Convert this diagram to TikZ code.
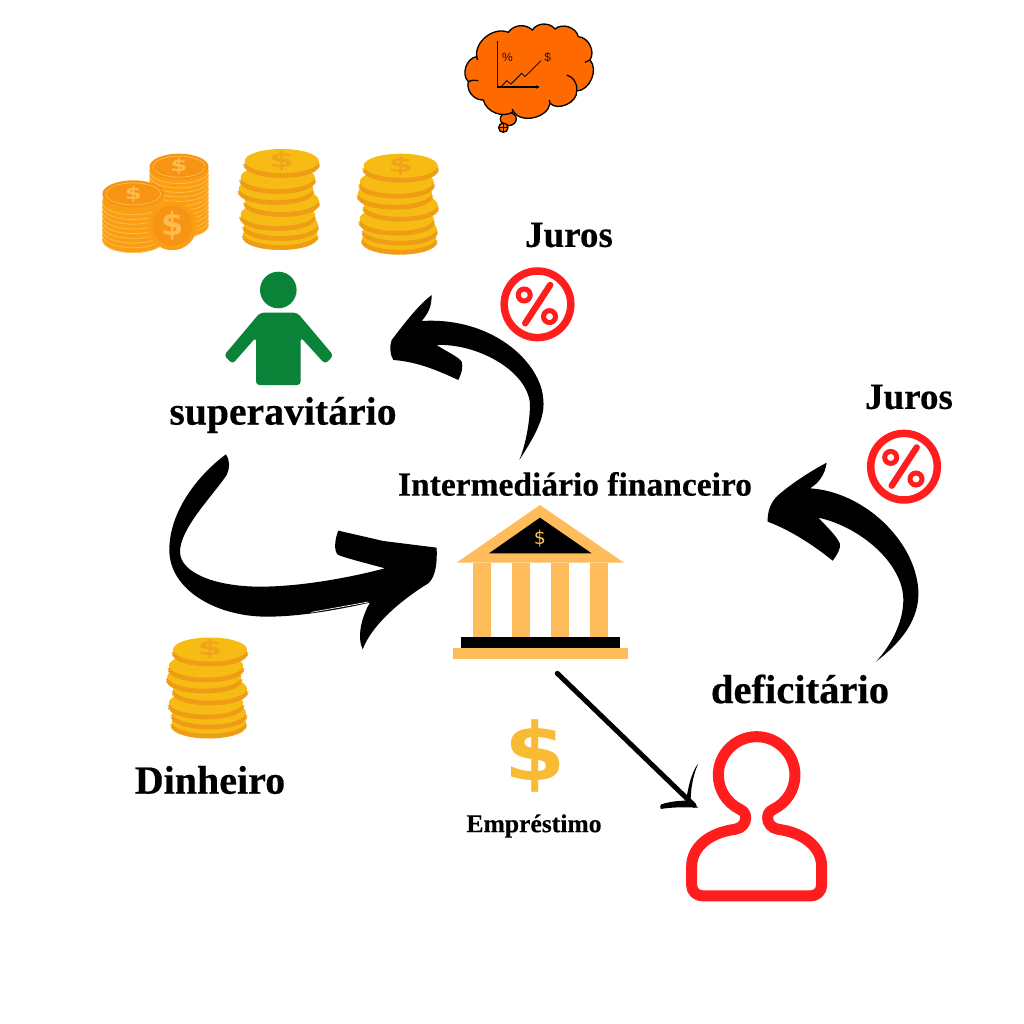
\documentclass[tikz,border=0pt]{standalone}
\usetikzlibrary{arrows.meta}
\usepackage{fontspec}
\setmainfont{Liberation Serif}[BoldFeatures={FakeBold=0.4}]
\newfontfamily\sansb{Liberation Sans}[BoldFont={Liberation Sans Bold}]
\newfontfamily\dejab{DejaVu Sans}[BoldFont={DejaVu Sans Bold}]
\definecolor{coinTop}{HTML}{F7BC14}
\definecolor{coinSide}{HTML}{F4A61C}
\definecolor{coinRib}{HTML}{EC9812}
\definecolor{coinMark}{HTML}{F0A41A}
\definecolor{orangeCoin}{HTML}{FA9F14}
\definecolor{orangeLine}{HTML}{FDBC4C}
\definecolor{orangeDark}{HTML}{F89414}
\definecolor{bankGold}{HTML}{FFBC5B}
\definecolor{dollarGold}{HTML}{F8BB33}
\definecolor{alertRed}{HTML}{FF1D1D}
\definecolor{personGreen}{HTML}{0A8238}
\definecolor{cloudOrange}{HTML}{FF6A00}
\tikzset{
  lab/.style={inner sep=0pt,text=black,font=\bfseries\fontsize{#1}{#1}\selectfont},
  coinstack/.pic={
    \foreach \dx/\dy in {-1.3/72,-1/63,-4/53,0/39,-5.7/27,-4/16,0/0}{
      \fill[coinSide] (\dx-37,\dy) rectangle (\dx+37,\dy+5);
      \fill[coinSide] (\dx,\dy+5) ellipse [x radius=37,y radius=12];
      \draw[coinRib,line width=4.4,dash pattern=on .7pt off .7pt]
        (\dx-36.5,\dy+2.5) .. controls (\dx-36.5,\dy+18.5) and (\dx+36.5,\dy+18.5) .. (\dx+36.5,\dy+2.5);
      \fill[coinTop] (\dx,\dy) ellipse [x radius=37,y radius=12];
    }
    \node[inner sep=0pt,text=coinMark,xscale=1.7,font=\dejab\bfseries\fontsize{21}{21}\selectfont] at (0,0) {\$};
  },
  orangestack/.pic={
    \foreach \dy in {#1}{
      \fill[orangeCoin] (0,\dy+2) ellipse [x radius=29.5,y radius=13];
      \draw[orangeLine,line width=.8] (-29.5,\dy+2) .. controls (-29.5,\dy+19) and (29.5,\dy+19) .. (29.5,\dy+2);
    }
    \fill[orangeDark] (0,0) ellipse [x radius=29.5,y radius=13];
    \draw[orangeLine,line width=.7] (0,0) ellipse [x radius=26,y radius=10.5];
    \node[inner sep=0pt,text=orangeLine,xscale=1.4,font=\dejab\bfseries\fontsize{17}{17}\selectfont] at (0,0) {\$};
  },
  percentbadge/.pic={
    \draw[alertRed,line width=7.5] (0,0) circle [radius=33.3];
    \draw[alertRed,line width=6.4,line cap=round] (12.7,-19.3) -- (-12.3,19);
    \draw[alertRed,line width=5] (-13.3,-9.3) circle [radius=6];
    \draw[alertRed,line width=5] (12,12.3) circle [radius=6];
  },
  zoomtwo/.style={shift={(150,440)},x=.3333pt,y=-.3333pt},
  zoomthree/.style={shift={(440,660)},x=.3333pt,y=-.3333pt},
  zoomfour/.style={shift={(380,260)},x=.3333pt,y=-.3333pt},
  zoomfive/.style={shift={(750,420)},x=.3333pt,y=-.3333pt},
  zoomcloud/.style={shift={(455,15)},x=.3333pt,y=-.3333pt},
  cloudline/.style={draw=black,line width=1.3},
}
\begin{document}
\begin{tikzpicture}[x=1pt,y=-1pt]
\fill[white] (0,0) rectangle (1024,1024);
\useasboundingbox (0,0) rectangle (1024,1024);

% thought cloud
\begin{scope}[zoomcloud]
\filldraw[fill=cloudOrange,cloudline] (160,312) ellipse [x radius=24,y radius=20];
\filldraw[fill=cloudOrange,cloudline] (145,338) circle [radius=14];
\draw[black,line width=.7] (133,338) -- (157,338) (145,325) -- (145,351);
\filldraw[fill=cloudOrange,cloudline]
  (65,125) to[bend left=60] (160,52) to[bend left=50] (232,45)
  to[bend left=55] (300,42) to[bend left=60] (370,65) to[bend left=60] (405,135)
  to[bend left=65] (365,228) to[bend left=70] (285,265) to[bend left=70] (175,290)
  to[bend left=55] (85,255) to[bend left=55] (40,200) to[bend left=65] cycle;
\draw[cloudline] (335,180) .. controls (355,185) and (368,205) .. (365,228);
\draw[cloudline] (40,200) .. controls (50,195) and (60,195) .. (70,197);
\draw[cloudline] (405,135) -- (390,142) (285,265) -- (283,255) (175,290) -- (172,282) (65,125) -- (68,135);
\draw[black,line width=1.1,-{Stealth[length=3.5pt,width=3.5pt]}] (128,78) -- (128,216) -- (254,216);
\draw[black,line width=.8] (140,214) -- (155,197) -- (168,207) -- (200,175) -- (210,185) -- (258,137);
\node[inner sep=0pt,text=black!85!orange,font=\sansb\fontsize{12}{12}\selectfont] (pct) at (157,127) {\%};
\node[inner sep=0pt,text=black!85!orange,font=\sansb\fontsize{12}{12}\selectfont] (usd) at (278,127) {\$};
\end{scope}

% coins upper left
\pic at (179,166.7) {orangestack={56,51.5,47,42.5,38,33.5,29,24.5,20,15.5,11,6.5,2}};
\pic[scale=1.05] at (133.3,194) {orangestack={41,36.5,32,27.5,23,18.5,14,9.5,5}};
\fill[orangeCoin] (172.3,225.7) circle [radius=24.5];
\fill[orangeDark] (172.3,225.7) circle [radius=20];
\node[inner sep=0pt,text=orangeLine,font=\dejab\bfseries\fontsize{32}{32}\selectfont] (coinmark) at (172.3,225.7) {\$};
\pic at (281.7,161) {coinstack};
\pic at (400.7,165.7) {coinstack};
\pic at (210,649.5) {coinstack};

% green person
\fill[personGreen] (278.3,290) circle [radius=18.3];
\fill[personGreen,rounded corners=3.5] (260,312.7) -- (297.3,312.7) -- (333.5,355.5) -- (325,364)
  -- (300.7,337.3) -- (300.7,385) -- (256,385) -- (256,337.3) -- (232.5,364) -- (224,355.5) -- cycle;

% percent badges
\pic at (537.5,304.3) {percentbadge};
\pic at (904,466.7) {percentbadge};

% big curved arrows
\begin{scope}[zoomfour]
\fill[black] (418,600) .. controls (470,520) and (495,470) .. (490,420)
  .. controls (485,310) and (340,170) .. (125,183)
  .. controls (145,160) and (155,140) .. (155,105)
  .. controls (110,140) and (70,195) .. (35,240)
  .. controls (28,260) and (30,285) .. (40,300)
  .. controls (110,305) and (170,330) .. (235,360)
  .. controls (245,340) and (250,320) .. (245,305)
  .. controls (235,290) and (200,275) .. (170,255)
  .. controls (290,250) and (440,330) .. (450,430)
  .. controls (450,490) and (435,560) .. (418,600) -- cycle;
\end{scope}
\begin{scope}[zoomfive]
\fill[black] (378,725) .. controls (450,670) and (510,600) .. (505,510)
  .. controls (495,360) and (340,215) .. (180,205)
  .. controls (205,190) and (225,165) .. (230,128)
  .. controls (170,160) and (120,195) .. (85,225)
  .. controls (62,245) and (52,275) .. (53,305)
  .. controls (120,330) and (190,375) .. (248,422)
  .. controls (262,405) and (272,385) .. (270,372)
  .. controls (262,350) and (230,320) .. (205,293)
  .. controls (330,320) and (460,430) .. (460,540)
  .. controls (460,610) and (420,680) .. (378,725) -- cycle;
\end{scope}
\begin{scope}[zoomtwo]
\fill[black] (228,43) .. controls (240,60) and (240,85) .. (230,105)
  .. controls (190,165) and (90,265) .. (90,335)
  .. controls (90,400) and (200,440) .. (330,440)
  .. controls (460,440) and (610,410) .. (705,385)
  .. controls (650,370) and (590,355) .. (565,345)
  .. controls (550,335) and (555,295) .. (565,272)
  -- (700,303) -- (860,323)
  .. controls (862,365) and (858,410) .. (835,430)
  .. controls (770,470) and (670,545) .. (638,628)
  .. controls (620,590) and (635,530) .. (660,488)
  .. controls (560,510) and (450,530) .. (350,530)
  .. controls (200,530) and (58,450) .. (58,330)
  .. controls (58,210) and (150,100) .. (228,43) -- cycle;
\draw[white,line width=.7] (484,517) -- (655,486);

% bank
\fill[bankGold] (1170,195) -- (1422,368) -- (920,368) -- cycle;
\fill[black] (1170,233) -- (1325,340) -- (1017,340) -- cycle;
\foreach \cx in {970,1087,1203,1320}{\fill[bankGold] (\cx,368) rectangle (\cx+53,590);}
\fill[black] (932,590) rectangle (1410,623);
\fill[bankGold] (910,625) rectangle (1433,658);
\node[inner sep=0pt,text=bankGold,font=\dejab\fontsize{19}{19}\selectfont] (bankmark) at (1170,295) {\$};
\end{scope}

% loan arrow
\begin{scope}[zoomthree]
\coordinate (loanstart) at (352,40);
\coordinate (loanend) at (762,436);
\draw[black,line width=5,line cap=round] (loanstart) -- (loanend);
\fill[black] (775,310) .. controls (755,355) and (752,400) .. (752,425) -- (775,443)
  .. controls (740,441) and (700,441) .. (662,447)
  .. controls (660,440) and (660,436) .. (664,433)
  .. controls (690,425) and (715,422) .. (738,422)
  .. controls (745,380) and (755,335) .. (775,310) -- cycle;
% big dollar
\node[inner sep=0pt,xscale=1.1,text=dollarGold,font=\dejab\bfseries\fontsize{80}{80}\selectfont] (bigdollar) at (285,288) {\$};
% red person
\draw[alertRed,line width=11,line join=round]
  (1000,448) .. controls (1039.5,428.7) and (1065,389) .. (1065,345)
  .. controls (1065,282) and (1013,230) .. (950,230)
  .. controls (887,230) and (835,282) .. (835,345)
  .. controls (835,389) and (860.5,428.7) .. (900,448)
  .. controls (914,455) and (917,463) .. (917,475)
  .. controls (917,490) and (905,505) .. (885,508)
  .. controls (810,518) and (755,560) .. (755,620)
  -- (755,675) .. controls (755,695) and (770,708) .. (790,708)
  -- (1110,708) .. controls (1130,708) and (1145,695) .. (1145,675)
  -- (1145,620) .. controls (1145,560) and (1090,518) .. (1015,508)
  .. controls (995,505) and (983,490) .. (983,475)
  .. controls (983,463) and (986,455) .. (1000,448) -- cycle;
\end{scope}

% labels
\node[lab=37] (juros1) at (569,235) {Juros};
\node[lab=37] (juros2) at (909,397) {Juros};
\node[lab=39.7] (sup) at (283,415) {superavitário};
\node[lab=33.5] (inter) at (575,484) {Intermediário financeiro};
\node[lab=40.6] (defi) at (800,689) {deficitário};
\node[lab=40] (din) at (210,780) {Dinheiro};
\node[lab=25.6] (emp) at (534,826) {Empréstimo};
\end{tikzpicture}
\end{document}
